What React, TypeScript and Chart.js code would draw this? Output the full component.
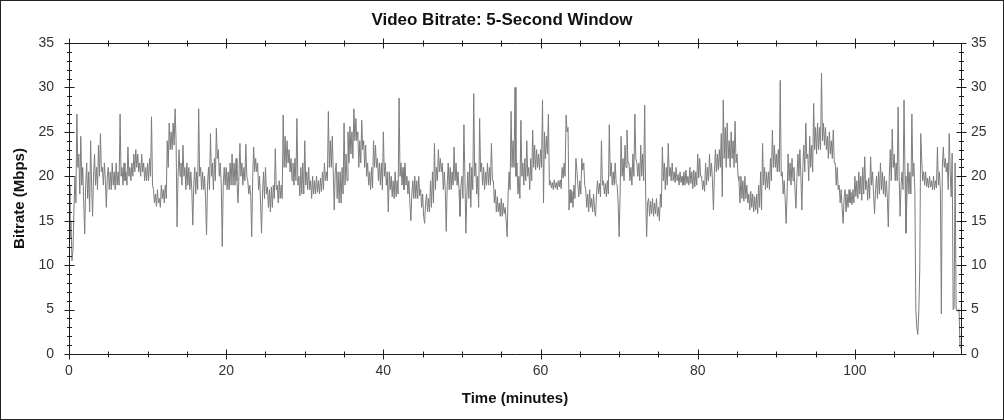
import React, { useEffect, useRef } from "react";
import { Chart, registerables } from "chart.js";

Chart.register(...registerables);

// Video bitrate (Mbps), one sample every STEP minutes,
// one array per 10-minute block (80 samples each; the last block is partial).
const STEP = 0.125;
const bitrate000 = [
  19, 13, 15, 10.5, 11.5, 16, 20, 17, 27, 21, 22.5, 18, 24.5, 19, 21, 17, 13.5, 19, 21.5, 17.5,
  20.5, 16, 24, 19, 15.5, 20, 22.5, 19, 21, 18.5, 23.5, 20, 24.8, 20.5, 21, 19, 21.5, 19.5, 16.5, 20,
  21, 18.5, 20.5, 18.5, 21.5, 19, 20.5, 18.5, 21.5, 19, 20.5, 19, 27, 20, 21, 19, 21.5, 19.5, 20.5, 19,
  23.3, 20, 21, 19.5, 21.5, 20, 22.5, 20.5, 23, 21, 22.5, 20.5, 21.5, 20, 22.5, 20.5, 21.5, 19.5, 21, 19.5,
];
const bitrate010 = [
  21.5, 19.5, 22, 20, 26.7, 19, 18.5, 17, 18, 16.6, 18.5, 17, 17.5, 16.5, 19, 17.5, 18.5, 17, 19, 17.5,
  24, 21, 26, 23, 25, 23, 26, 23.5, 27.6, 24, 14.3, 20, 23, 20, 21.5, 19, 23.5, 20, 21, 18.5,
  21.5, 19, 21, 18.5, 20.5, 18.5, 14.5, 19, 21, 18, 20.5, 18.5, 27.6, 20, 21, 18.5, 20.5, 18.5, 20, 17.5,
  13.4, 19, 21, 18.5, 24.8, 20, 21.5, 18.5, 22, 19.5, 25.4, 22, 23, 20, 21.5, 19, 12.1, 19, 21, 19,
];
const bitrate020 = [
  21, 18.5, 20.5, 18.5, 21.5, 19, 22.5, 19, 21.5, 19, 22, 19.5, 17, 20, 23.7, 20, 21.5, 19, 21, 19.5,
  23.6, 20, 19.5, 18, 19, 17.7, 13.2, 20, 23.3, 20.5, 22, 20.5, 21.5, 18.5, 20, 17, 13.6, 18, 20.5, 17.5,
  21, 18, 18.8, 16.5, 18.5, 16, 18.8, 16.5, 19, 17.5, 23.1, 18.5, 19, 17, 19.5, 17.5, 19, 17.5, 26.9, 21,
  24.5, 21, 24, 21.5, 23, 20.5, 22, 19.5, 21.5, 19, 22, 19.5, 26.5, 19, 20, 17.8, 21, 18, 21.5, 18,
];
const bitrate030 = [
  24, 19, 20.5, 18.5, 21, 18.5, 19.5, 17.5, 20, 18, 19.5, 18, 20, 18.2, 19.5, 18, 19.8, 18.3, 20.5, 18.5,
  21.5, 19.5, 20.5, 19.5, 27.3, 21, 24, 21, 24.5, 20.5, 16.2, 20.5, 21.5, 17.5, 20.5, 17, 20.5, 17, 21, 18,
  26, 19, 22.5, 19.5, 25, 21.5, 25.6, 22.5, 25, 22, 27.6, 24, 26.5, 24, 25, 21, 24, 21.5, 26.3, 23,
  24, 21, 23.5, 20, 21.5, 19, 20.5, 18.5, 21, 18.7, 24, 21, 23.5, 21, 22, 19.5, 21.5, 19, 21.5, 18.5,
];
const bitrate040 = [
  25, 20, 21.5, 19, 20.5, 16, 20.5, 18.5, 20, 17.7, 19.5, 17.5, 20.5, 17.7, 19.5, 18, 28.8, 20, 21.5, 19,
  21, 18.5, 21.5, 19, 20, 18, 19.5, 17, 15, 18, 19.5, 17.5, 20, 17.5, 19.5, 17.5, 20, 17.8, 18.5, 16.5,
  18, 15.5, 14.7, 17, 18, 16, 17.5, 16, 19.5, 16.5, 20.5, 17, 23.7, 18.5, 21, 19.5, 23, 20.5, 22, 20.5,
  21.5, 18.5, 20.5, 18.5, 13.8, 19, 21.5, 18.5, 21, 18.5, 20.5, 19, 23.3, 19.5, 21.5, 19, 20.5, 18.5, 15.5, 19,
];
const bitrate050 = [
  20, 17.5, 25.8, 20, 13.6, 18, 20.5, 17.5, 21.5, 16.5, 21, 18.5, 29.3, 20, 21.5, 18, 20, 16.5, 26.5, 20.5,
  21.5, 19, 21, 18.5, 20.5, 19, 21.5, 19, 21, 19, 23.7, 19.5, 19.5, 17, 18.5, 16, 17.7, 16, 17, 15.5,
  17.5, 15.5, 17, 15.8, 16.5, 15, 13.2, 18, 20.5, 18.5, 27.3, 21, 24, 21, 30, 20, 21.5, 18, 20, 17.5,
  26.3, 20, 21.5, 19, 22, 19.5, 24, 20, 21, 18.5, 22, 19.5, 25.2, 21, 23.5, 20.7, 23, 21, 22.5, 20.7,
];
const bitrate060 = [
  23, 21, 28.6, 17, 25, 22, 24.5, 22.5, 27, 19, 19.5, 18.7, 19.3, 18.5, 19.6, 18.7, 19.3, 18.5, 19.5, 18.8,
  19.6, 18.6, 21, 19.8, 21.5, 20, 26.9, 25, 25.5, 16.2, 18.5, 17, 18.3, 16.5, 19, 17.5, 22, 20.7, 19, 17.7,
  19.5, 18, 22, 20.7, 21.5, 19, 18.5, 16.5, 18, 16, 18.5, 16.5, 17.5, 16, 18, 16.2, 15.5, 18, 19.5, 18,
  19.2, 17.7, 24, 19, 19.5, 18, 19.2, 17.7, 19.5, 18, 25.8, 20, 21.5, 19, 20.5, 19, 21.5, 19.2, 19, 17,
];
const bitrate070 = [
  13.2, 18, 24.5, 20, 22, 19.5, 23.5, 21, 25.2, 21.5, 21.5, 19.5, 21, 19, 22.5, 20, 27, 22, 21.5, 20,
  21.5, 19.5, 23.5, 20, 22.5, 19.5, 28, 18, 13.2, 17, 17.5, 15.5, 17.2, 15.8, 17.5, 15.5, 17, 15.8, 17.5, 15.5,
  16.5, 15, 18, 16.5, 23.3, 19.5, 21.5, 18.5, 21, 19, 23.7, 20, 21, 19.5, 21.5, 19.5, 20.5, 19.3, 21, 19.5,
  20.2, 19, 20.5, 19.3, 20, 19, 20.5, 19, 20.7, 19.2, 20, 19, 21, 19.2, 20.5, 18.6, 20.7, 18.8, 20.5, 19,
];
const bitrate080 = [
  22.5, 19.8, 22, 20, 20, 18.5, 19.5, 18.3, 21.5, 19, 21, 19.5, 22.5, 20, 21.5, 19.5, 16.2, 20.5, 23, 20.5,
  22.5, 20.7, 23, 21, 24.8, 17.7, 28.6, 22, 25.5, 21, 26, 22, 24, 21, 25, 22, 24, 21, 26.2, 21.5,
  22.5, 20, 19.5, 17, 20, 17.5, 19.5, 17.2, 20, 17.5, 19, 17, 18, 16.2, 18.3, 16.5, 18, 16, 17.7, 16.2,
  18, 15.8, 19, 16.5, 20.5, 16.2, 23.7, 19, 21, 18.5, 20.5, 18.7, 20.5, 18.5, 22, 19.5, 25.2, 21, 23.5, 21,
];
const bitrate090 = [
  22.5, 20.5, 23, 20.5, 30.8, 20, 20.5, 18, 19.5, 17.5, 14.7, 18, 22.5, 19.5, 21.5, 19, 22, 19.5, 21, 18.5,
  16.4, 20, 22.5, 20, 23, 20, 16.2, 21, 23.5, 20.5, 26, 22, 22.5, 19.5, 24.5, 21, 23.5, 20.5, 28.2, 23,
  25.5, 22.5, 26, 23, 25.5, 23, 31.6, 24, 26, 23.5, 25.5, 23, 24.5, 22, 25, 22.5, 24, 22, 25.2, 21.5,
  21.5, 19, 21, 18.5, 19, 17, 18.5, 16.5, 14.7, 17.5, 18.5, 16, 18, 16.5, 18.5, 17, 18.2, 16.8, 18.5, 17,
];
const bitrate100 = [
  20, 17.7, 19.5, 17.5, 20.5, 18, 20, 17.3, 21, 18, 22.2, 18.5, 19.5, 17.3, 19.8, 17.5, 22.2, 19, 20.5, 18,
  15.8, 18.5, 20, 17.5, 20.5, 18, 21.5, 18.5, 20.5, 18, 20, 17.7, 19.5, 17.5, 14.3, 20, 23, 19.5, 25.3, 21,
  22.5, 19.5, 21.5, 19.5, 27.8, 20, 15.5, 19, 20.5, 18.5, 28.6, 20, 13.6, 18, 21.5, 18, 20.5, 18, 27, 20,
  21.5, 18.5, 5, 3, 2.2, 4.5, 9.5, 24.8, 22, 19.5, 20.5, 19, 20.5, 18.8, 19.8, 18.7, 20, 18.8, 19.5, 18.5,
];
const bitrate110 = [
  20, 18.5, 19.5, 18.7, 23.3, 19, 20.5, 18.5, 4.5, 21, 23.3, 21, 22, 20.5, 21.5, 18.5, 24.8, 20.5, 17.7, 22.6,
  5, 5.2, 21.5, 5, 5, 4.8, 5, 0.8, 0.6,
];

const blockStarts = [0, 10, 20, 30, 40, 50, 60, 70, 80, 90, 100, 110];
const blocks = [bitrate000, bitrate010, bitrate020, bitrate030, bitrate040, bitrate050, bitrate060, bitrate070, bitrate080, bitrate090, bitrate100, bitrate110];

const X_MAX = 113.5;
const Y_MAX = 35;
const xLabelTicks = [0, 20, 40, 60, 80, 100];
const xMinorTicks = [5, 10, 15, 25, 30, 35, 45, 50, 55, 65, 70, 75, 85, 90, 95, 105, 110];
const yLabelTicks = [0, 5, 10, 15, 20, 25, 30, 35];
const yMinorTicks = [1, 2, 3, 4, 6, 7, 8, 9, 11, 12, 13, 14, 16, 17, 18, 19, 21, 22, 23, 24, 26, 27, 28, 29, 31, 32, 33, 34];

const FONT = "'Liberation Sans', Arial, Helvetica, sans-serif";

const framePlugin = {
  id: "frame",
  beforeDraw(chart: any) {
    const { ctx, width, height } = chart;
    ctx.save();
    ctx.fillStyle = "#ffffff";
    ctx.fillRect(0, 0, width, height);
    ctx.restore();
  },
  afterDraw(chart: any) {
    const { ctx, chartArea: a, scales, width, height } = chart;
    const xs = scales.x;
    const ys = scales.y;
    const L = Math.round(a.left) + 0.5;
    const R = Math.round(a.right) + 0.5;
    const T = Math.round(a.top) + 0.5;
    const B = Math.round(a.bottom) + 0.5;
    ctx.save();
    ctx.strokeStyle = "#1e1e1e";
    ctx.lineWidth = 1;
    ctx.beginPath();
    ctx.rect(L, T, R - L, B - T);
    const hTick = (v: number, len: number) => {
      const px = Math.round(xs.getPixelForValue(v)) + 0.5;
      ctx.moveTo(px, T - len);
      ctx.lineTo(px, T + len);
      ctx.moveTo(px, B - len);
      ctx.lineTo(px, B + len);
    };
    const vTick = (v: number, len: number) => {
      const py = Math.round(ys.getPixelForValue(v)) + 0.5;
      ctx.moveTo(L - len, py);
      ctx.lineTo(L + len, py);
      ctx.moveTo(R - len, py);
      ctx.lineTo(R + len, py);
    };
    xLabelTicks.forEach((v) => hTick(v, 5));
    xMinorTicks.forEach((v) => hTick(v, 3));
    yLabelTicks.forEach((v) => vTick(v, 5));
    yMinorTicks.forEach((v) => vTick(v, 2.5));
    ctx.stroke();
    ctx.strokeStyle = "#222222";
    ctx.strokeRect(0.5, 0.5, width - 1, height - 1);
    ctx.restore();
  },
};

export default function App() {
  const canvasRef = useRef<HTMLCanvasElement | null>(null);

  useEffect(() => {
    const canvas = canvasRef.current;
    if (!canvas) return;
    const points: { x: number; y: number }[] = [];
    blocks.forEach((arr, b) => {
      arr.forEach((v, i) => points.push({ x: blockStarts[b] + i * STEP, y: v }));
    });

    const chart = new Chart(canvas, {
      type: "line",
      data: {
        datasets: [
          {
            data: points,
            borderColor: "#7d7d7d",
            borderWidth: 1,
            pointRadius: 0,
            fill: false,
            tension: 0,
            yAxisID: "y",
          },
        ],
      },
      options: {
        animation: false,
        responsive: false,
        devicePixelRatio: 1,
        layout: { padding: 0 },
        plugins: {
          legend: { display: false },
          tooltip: { enabled: false },
          title: {
            display: true,
            text: "Video Bitrate: 5-Second Window",
            color: "#111111",
            font: { family: FONT, size: 17, weight: "bold" },
            padding: { top: 10, bottom: 12.6 },
          },
        },
        scales: {
          x: {
            type: "linear",
            min: 0,
            max: X_MAX,
            afterBuildTicks: (s: any) => {
              s.ticks = xLabelTicks.map((v) => ({ value: v }));
            },
            afterFit: (s: any) => {
              s.height = 66;
            },
            grid: { display: false, drawTicks: false },
            border: { display: false },
            ticks: {
              padding: 9,
              color: "#333333",
              maxRotation: 0,
              autoSkip: false,
              font: { family: FONT, size: 14 },
            },
            title: {
              display: true,
              text: "Time (minutes)",
              color: "#111111",
              font: { family: FONT, size: 15, weight: "bold" },
              padding: { top: 0, bottom: 12 },
            },
          },
          y: {
            type: "linear",
            position: "left",
            min: 0,
            max: Y_MAX,
            afterBuildTicks: (s: any) => {
              s.ticks = yLabelTicks.map((v) => ({ value: v }));
            },
            afterFit: (s: any) => {
              s.width = 69;
            },
            grid: { display: false, drawTicks: false },
            border: { display: false },
            ticks: {
              padding: 15,
              color: "#333333",
              font: { family: FONT, size: 14 },
            },
            title: {
              display: true,
              text: "Bitrate (Mbps)",
              color: "#111111",
              font: { family: FONT, size: 15, weight: "bold" },
              padding: { top: 11, bottom: 0 },
            },
          },
          y2: {
            type: "linear",
            position: "right",
            min: 0,
            max: Y_MAX,
            afterBuildTicks: (s: any) => {
              s.ticks = yLabelTicks.map((v) => ({ value: v }));
            },
            afterFit: (s: any) => {
              s.width = 43;
            },
            grid: { display: false, drawTicks: false },
            border: { display: false },
            ticks: {
              padding: 10,
              color: "#333333",
              font: { family: FONT, size: 14 },
            },
          },
        },
      },
      plugins: [framePlugin],
    } as any);

    return () => chart.destroy();
  }, []);

  return (
    <div style={{ position: "absolute", left: 0, top: 0, width: 1004, height: 420 }}>
      <canvas ref={canvasRef} width={1004} height={420} style={{ width: 1004, height: 420, display: "block" }} />
    </div>
  );
}
